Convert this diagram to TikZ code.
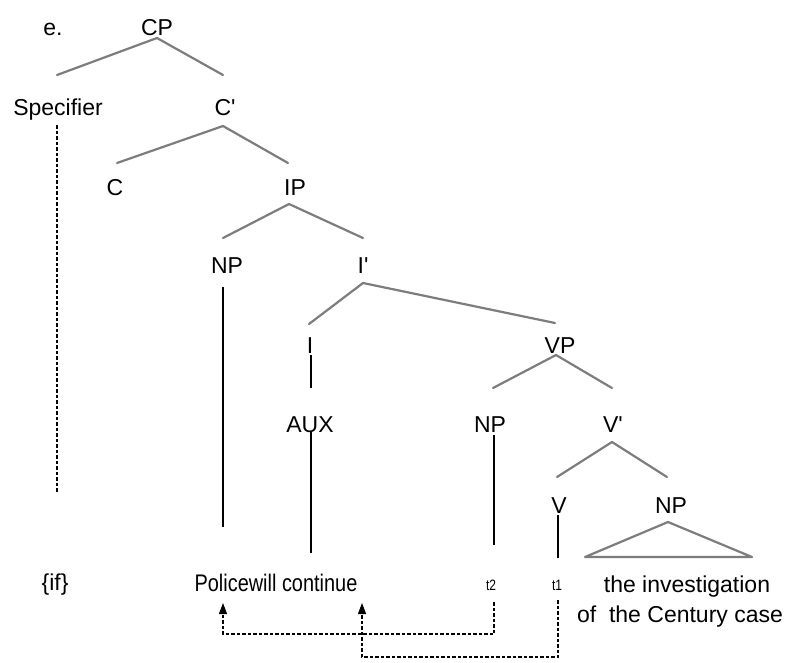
\documentclass[tikz,border=0pt]{standalone}
\usepackage{fontspec}
\setmainfont{Liberation Sans}
\usetikzlibrary{arrows.meta}
\definecolor{branch}{RGB}{125,125,125}
\begin{document}
\begin{tikzpicture}[x=1pt,y=-1pt,
  lbl/.style={anchor=base,inner sep=0pt,font=\fontsize{23}{27}\selectfont},
  small/.style={anchor=base,inner sep=0pt,font=\fontsize{15}{18}\selectfont},
  br/.style={draw=branch,line width=2.2pt,line cap=round,line join=round},
  stem/.style={draw=black,line width=1.2pt},
  dline/.style={draw=black,line width=1.1pt,dash pattern=on 3.5pt off 2pt},
  mv/.style={dline,-{Triangle[width=8pt,length=11pt]}}]
\path[use as bounding box,fill=white] (0,0) rectangle (787,662);
% labels
\node[lbl] (e) at (53,35) {e.};
\node[lbl] (CP) at (157,35) {CP};
\node[lbl] (Spec) at (58,115) {Specifier};
\node[lbl] (Cbar) at (225,115) {C\textquotesingle};
\node[lbl] (C) at (115,195) {C};
\node[lbl] (IP) at (295,195) {IP};
\node[lbl] (NPs) at (227,273) {NP};
\node[lbl] (Ibar) at (363,273) {I\textquotesingle};
\node[lbl] (I) at (310,353) {I};
\node[lbl] (VP) at (560,353) {VP};
\node[lbl] (AUX) at (310,432) {AUX};
\node[lbl] (NPv) at (490,432) {NP};
\node[lbl] (Vbar) at (613,432) {V\textquotesingle};
\node[lbl] (V) at (559,513) {V};
\node[lbl] (NPo) at (671,513) {NP};
\node[lbl] (if) at (55,590) {\{if\}};
\node[lbl,font=\fontsize{24}{28}\selectfont] (police) at (276,591) {\scalebox{0.83}[1]{Policewill continue}};
\node[small] (t2) at (491,590) {\scalebox{0.8}[1]{t2}};
\node[small] (t1) at (557,590) {\scalebox{0.8}[1]{t1}};
\node[lbl] (obja) at (687,592) {the investigation};
\node[lbl] (objb) at (680,622) {of~~the Century case};
% branch points
\coordinate (cpA) at (157,38); \coordinate (cpL) at (57,75); \coordinate (cpR) at (223,75);
\coordinate (cbA) at (223,126); \coordinate (cbL) at (117,163); \coordinate (cbR) at (288,163);
\coordinate (ipA) at (289,204); \coordinate (ipL) at (223,238); \coordinate (ipR) at (363,238);
\coordinate (ibA) at (363,283); \coordinate (ibL) at (309,324); \coordinate (ibR) at (555,323);
\coordinate (vpA) at (556,355); \coordinate (vpL) at (493,388); \coordinate (vpR) at (612,388);
\coordinate (vbA) at (612,442); \coordinate (vbL) at (557,477); \coordinate (vbR) at (667,477);
\coordinate (trA) at (668,522); \coordinate (trL) at (585,557); \coordinate (trR) at (752,557);
\draw[br] (cpL) -- (cpA) -- (cpR);
\draw[br] (cbL) -- (cbA) -- (cbR);
\draw[br] (ipL) -- (ipA) -- (ipR);
\draw[br] (ibL) -- (ibA) -- (ibR);
\draw[br] (vpL) -- (vpA) -- (vpR);
\draw[br] (vbL) -- (vbA) -- (vbR);
\draw[br] (trA) -- (trL) -- (trR) -- cycle;
% stems
\coordinate (sp1) at (57,125); \coordinate (sp2) at (57,492);
\coordinate (np1) at (223,287); \coordinate (np2) at (223,527);
\coordinate (i1) at (311,355); \coordinate (i2) at (311,388);
\coordinate (aux1) at (311,432); \coordinate (aux2) at (311,553);
\coordinate (nv1) at (494,435); \coordinate (nv2) at (494,545);
\coordinate (v1) at (558,515); \coordinate (v2) at (558,558);
\draw[dline] (sp1) -- (sp2);
\draw[stem] (np1) -- (np2);
\draw[stem] (i1) -- (i2);
\draw[stem] (aux1) -- (aux2);
\draw[stem] (nv1) -- (nv2);
\draw[stem] (v1) -- (v2);
% movement arrows
\coordinate (t2d) at (494,602); \coordinate (m1) at (223,634); \coordinate (a1) at (223,603);
\coordinate (t1d) at (558,600); \coordinate (m2) at (362,657); \coordinate (a2) at (362,603);
\draw[mv] (t2d) |- (m1) -- (a1);
\draw[mv] (t1d) |- (m2) -- (a2);
\end{tikzpicture}
\end{document}
